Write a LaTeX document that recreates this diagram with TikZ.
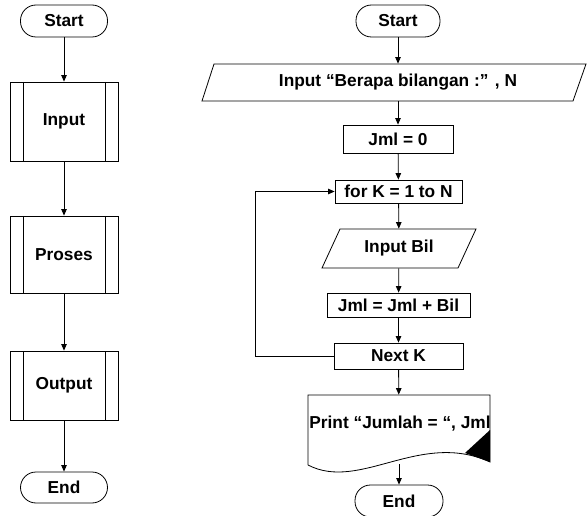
\documentclass[tikz,border=0pt]{standalone}
\usepackage{fontspec}
\setmainfont{Liberation Sans}
\usetikzlibrary{arrows.meta,calc}
\begin{document}
\begin{tikzpicture}[x=1pt,y=-1pt,
  font=\fontsize{17.3}{20}\selectfont\bfseries,
  line width=0.8pt,
  every node/.style={inner sep=0pt},
  term/.style={draw, rounded corners=15.5pt, minimum width=87pt, minimum height=32pt},
  subproc/.style={draw, minimum width=108pt,
    path picture={\draw ([xshift=13pt]path picture bounding box.north west) -- ([xshift=13pt]path picture bounding box.south west);
                  \draw ([xshift=-13pt]path picture bounding box.north east) -- ([xshift=-13pt]path picture bounding box.south east);}},
  procbox/.style={draw},
  ghost/.style={draw=none},
  arr/.style={-{Triangle[length=6.5pt,width=5.5pt]}}
]
\useasboundingbox (0,0) rectangle (587,516);

% ---------- left column ----------
\node[term] (sL) at (64,21) {Start};
\node[subproc, minimum height=79pt] (inL) at (64,121.5) {Input};
\node[subproc, minimum height=77pt] (prL) at (64,254.5) {Proses};
\node[subproc, minimum height=69pt] (ouL) at (64,385.5) {Output};
\node[term, minimum height=31pt] (eL) at (64,487.5) {End};

\draw[arr] (sL) -- (inL);
\draw[arr] (inL) -- (prL);
\draw[arr] (prL) -- (ouL);
\draw[arr] (ouL) -- (eL);

% ---------- right column ----------
\node[term, minimum width=84pt] (sR) at (398,21) {Start};

\node[ghost, minimum height=37pt] (inN) at (398,82.5) {Input “Berapa bilangan :” , N};
\draw (214,64) -- (586,64) -- (573,101) -- (202,101) -- cycle;

\node[procbox, minimum width=110pt, minimum height=28pt] (j0) at (398,139) {Jml = 0};
\node[procbox, minimum width=127pt, minimum height=23pt] (fk) at (398.5,191.5) {for K = 1 to N};

\node[ghost, minimum height=39pt] (inB) at (399,248.5) {Input Bil};
\draw (340,229) -- (476,229) -- (458,268) -- (322,268) -- cycle;

\node[procbox, minimum width=143pt, minimum height=24pt] (jb) at (398.5,305) {Jml = Jml + Bil};
\node[procbox, minimum width=129pt, minimum height=26pt] (nk) at (398.5,356) {Next K};

\node[ghost, minimum width=182pt, minimum height=67pt] (doc) at (399,428.5) {};
\draw (308,465) -- (308,395) -- (490,395) -- (490,462)
      .. controls (420,430) and (360,492) .. (308,465);
\fill (465,453) -- (490,430) -- (490,462) -- cycle;
\node[anchor=west] (prt) at (309,424) {Print “Jumlah = “, Jml};

\node[term, minimum width=88pt] (eR) at (399,501) {End};

\draw[arr] (sR) -- (inN);
\draw[arr] (inN) -- (j0);
\draw[arr] (j0) -- (fk);
\draw[arr] (fk) -- (inB);
\draw[arr] (inB) -- (jb);
\draw[arr] (jb) -- (nk);
\draw[arr] (nk) -- (doc);
\draw[arr] ([yshift=-2pt]doc.south) -- (eR);
\draw[arr] (nk.west) -- ++(-78,0) |- (fk.west);
\end{tikzpicture}
\end{document}
